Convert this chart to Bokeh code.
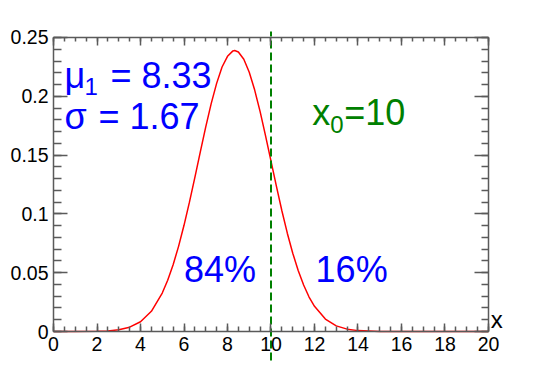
from bokeh.plotting import figure
from bokeh.models import Range1d, LinearAxis, SingleIntervalTicker, Label, CustomJSTickFormatter
from bokeh.embed import file_html
from bokeh.resources import INLINE

# curve
x_vals = [0, 1, 2, 2.5, 3, 3.5, 4, 4.5, 5, 5.25, 5.5, 5.75, 6, 6.25, 6.5, 6.75, 7, 7.25, 7.5, 7.75,
          8, 8.25, 8.33, 8.5, 8.75, 9, 9.25, 9.5, 9.75, 10, 10.25, 10.5, 10.75, 11, 11.25, 11.5,
          11.75, 12, 12.5, 13, 13.5, 14, 15, 16, 20]
y_vals = [0, 0, 0.0002, 0.0005, 0.0015, 0.0037, 0.0083, 0.0172, 0.0327, 0.0436, 0.0568, 0.0724,
          0.0903, 0.110, 0.131, 0.1527, 0.174, 0.1938, 0.211, 0.2249, 0.234, 0.2386, 0.2389,
          0.2377, 0.2315, 0.2205, 0.2053, 0.187, 0.1664, 0.1449, 0.1234, 0.1027, 0.0836, 0.0666,
          0.0518, 0.0395, 0.0293, 0.0214, 0.0106, 0.0048, 0.0020, 0.00075, 0.0001, 0, 0]
line_x = [10, 10]
line_y = [-0.0247, 0.2551]
mu_text = "8.33"
sigma_text = "1.67"
x0_text = "=10"
left_pct = "84%"
right_pct = "16%"
x_lo, x_hi = 0, 20
y_lo, y_hi = 0, 0.25

FONT = "Liberation Sans"
AX = "#5a5a5a"

# the frame covers the whole canvas; the axes box is drawn at fixed locations
p = figure(width=542, height=367, output_backend="svg", toolbar_location=None,
           x_range=Range1d(-2.437, 22.483), y_range=Range1d(-0.03061, 0.28146),
           min_border_left=0, min_border_right=0, min_border_top=0, min_border_bottom=0,
           x_axis_location=None, y_axis_location=None)
p.grid.visible = False
p.outline_line_color = None
p.background_fill_color = "white"
p.border_fill_color = "white"

def style(ax, interval, minor, tin, tmin, labels):
    ax.ticker = SingleIntervalTicker(interval=interval, num_minor_ticks=minor)
    ax.axis_line_color = AX
    ax.axis_line_width = 1.5
    ax.major_tick_line_color = AX
    ax.minor_tick_line_color = AX
    ax.major_tick_line_width = 1.5
    ax.minor_tick_line_width = 1.5
    ax.major_tick_in = tin
    ax.major_tick_out = 0
    ax.minor_tick_in = tmin
    ax.minor_tick_out = 0
    ax.major_label_text_font = FONT
    ax.major_label_text_color = "black"
    ax.major_label_text_font_size = "19.5px"
    if labels:
        ax.major_label_standoff = 5
    else:
        ax.formatter = CustomJSTickFormatter(code="return ''")
        ax.major_label_standoff = 0

xb = LinearAxis(fixed_location=y_lo, bounds=(x_lo, x_hi)); style(xb, 2, 4, 8, 5, True)
xt = LinearAxis(fixed_location=y_hi, bounds=(x_lo, x_hi)); style(xt, 2, 4, 8, 4, False)
yl = LinearAxis(fixed_location=x_lo, bounds=(y_lo, y_hi)); style(yl, 0.05, 5, 14, 8, True)
yr = LinearAxis(fixed_location=x_hi, bounds=(y_lo, y_hi)); style(yr, 0.05, 5, 14, 7, False)
p.add_layout(xb, "below")
p.add_layout(xt, "above")
p.add_layout(yl, "left")
p.add_layout(yr, "right")

p.line(x_vals, y_vals, line_color="red", line_width=1.5)
p.line(line_x, line_y, line_color="#008000", line_width=2, line_dash="8 4")

def lab(x, y, t, size, color, dx=0):
    p.add_layout(Label(x=x, y=y, text=t, x_offset=dx, text_font=FONT, text_font_size=size,
                       text_color=color, text_baseline="alphabetic", text_align="left"))

BLUE = "#0000ff"
GREEN = "#008000"
# mu line
lab(0.5, 0.2176, "μ", "36px", BLUE)
lab(0.5, 0.2066 + 0.0073 - 0.0055, "1", "24px", BLUE, 20)
lab(0.5, 0.2176, "= " + mu_text, "36px", BLUE, 46)
# sigma line
lab(0.5, 0.1828, "σ", "36px", BLUE)
lab(0.5, 0.1828, "= " + sigma_text, "36px", BLUE, 34)
# x0 label
lab(11.9, 0.1862, "x", "36px", GREEN)
lab(11.9, 0.1752 + 0.0073 - 0.0065, "0", "24px", GREEN, 18)
lab(11.9, 0.1862, x0_text, "36px", GREEN, 32)
# percentages
lab(6.0, 0.0527, left_pct, "36px", BLUE)
lab(12.05, 0.0527, right_pct, "36px", BLUE)
# axis title
lab(20.1, 0.0098, "x", "24px", "black")

open("out.html", "w").write(file_html(p, INLINE))
